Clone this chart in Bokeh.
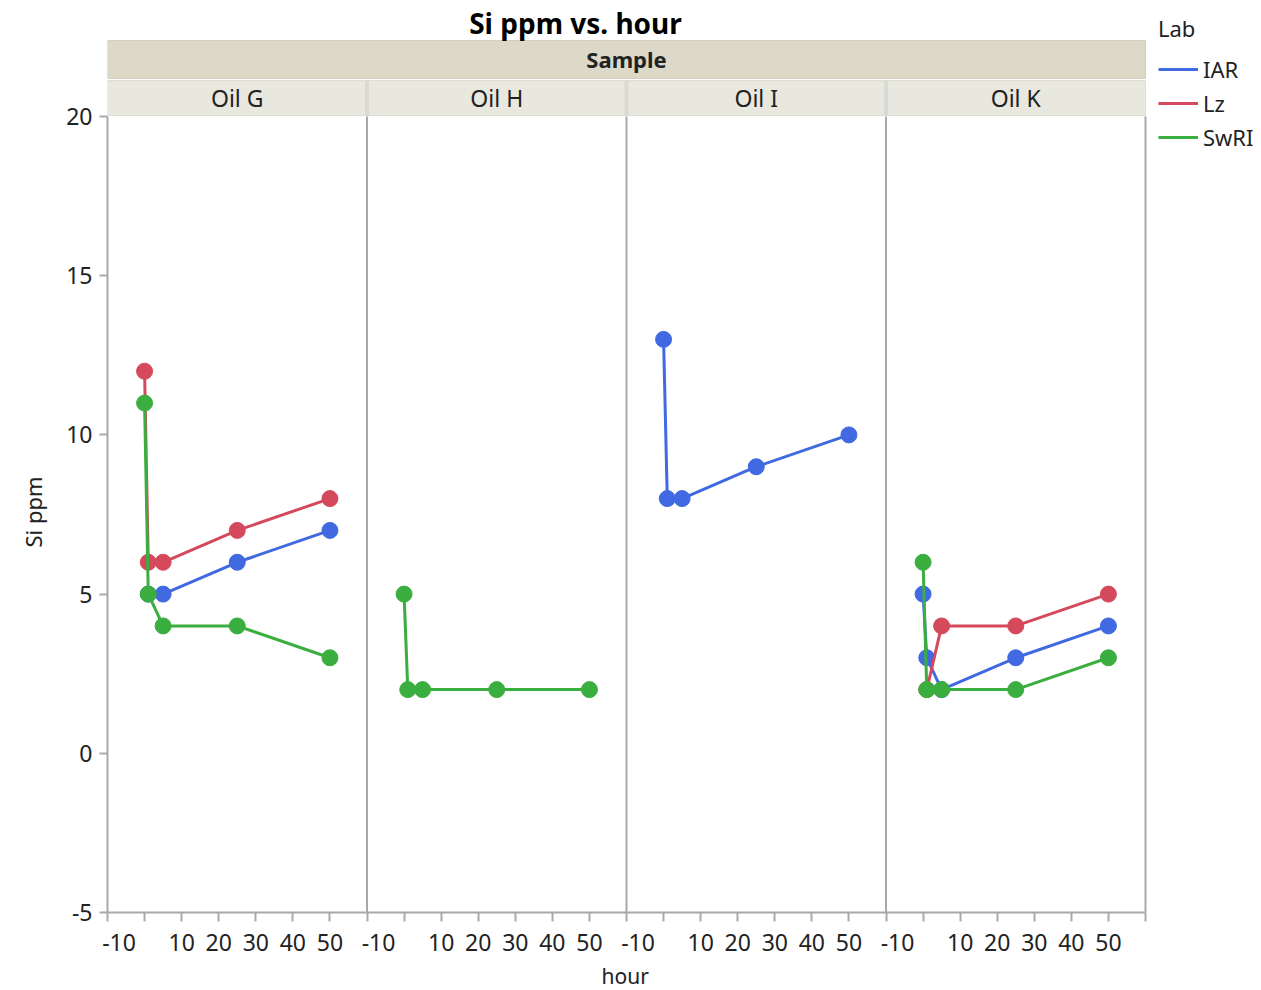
from bokeh.plotting import figure
from bokeh.models import Range1d, FixedTicker, LinearAxis, Legend, LegendItem, Title
from bokeh.core.properties import value
from bokeh.embed import file_html
from bokeh.resources import INLINE

# ---------------- data ----------------
samples = ["Oil G", "Oil H", "Oil I", "Oil K"]
labs = ["IAR", "Lz", "SwRI"]
lab_colors = ["#4169E1", "#D44A5C", "#3AAE3E"]

oil_g_iar_hour = [1, 5, 25, 50]
oil_g_iar_si = [5, 5, 6, 7]
oil_g_lz_hour = [0, 1, 5, 25, 50]
oil_g_lz_si = [12, 6, 6, 7, 8]
oil_g_swri_hour = [0, 1, 5, 25, 50]
oil_g_swri_si = [11, 5, 4, 4, 3]

oil_h_swri_hour = [0, 1, 5, 25, 50]
oil_h_swri_si = [5, 2, 2, 2, 2]

oil_i_iar_hour = [0, 1, 5, 25, 50]
oil_i_iar_si = [13, 8, 8, 9, 10]

oil_k_iar_hour = [0, 1, 5, 25, 50]
oil_k_iar_si = [5, 3, 2, 3, 4]
oil_k_lz_hour = [1, 5, 25, 50]
oil_k_lz_si = [2, 4, 4, 5]
oil_k_swri_hour = [0, 1, 5, 25, 50]
oil_k_swri_si = [6, 2, 2, 2, 3]

x_ticks_local = [-10, 0, 10, 20, 30, 40, 50, 60]
x_labels_local = {10: "10", 20: "20", 30: "30", 40: "40", 50: "50"}
y_ticks = [-5, 0, 5, 10, 15, 20]

series = [
    # (panel index, lab index, hours, values)
    (0, 0, oil_g_iar_hour, oil_g_iar_si),
    (0, 1, oil_g_lz_hour, oil_g_lz_si),
    (0, 2, oil_g_swri_hour, oil_g_swri_si),
    (1, 2, oil_h_swri_hour, oil_h_swri_si),
    (2, 0, oil_i_iar_hour, oil_i_iar_si),
    (3, 0, oil_k_iar_hour, oil_k_iar_si),
    (3, 1, oil_k_lz_hour, oil_k_lz_si),
    (3, 2, oil_k_swri_hour, oil_k_swri_si),
]

# ---------------- layout constants ----------------
XMIN, XMAX = -10, 60
SPAN = XMAX - XMIN          # width of one panel in hour units
NP = len(samples)
XEND = XMIN + SPAN * NP
FONT = "Noto Sans"
GREY = "#A9A9A9"
TXT = "#222222"

W, H = 1260, 990
ML, MR, MT, MB = 107, 0, 4, 78
frame_w = W - ML - MR
frame_h = H - MT - MB
px_per_y = 796 / 25.0
px_per_x = 1038 / float(SPAN * NP)
y_top = -5 + frame_h / px_per_y
x_right = XMIN + frame_w / px_per_x

def to_y(px_above_top):
    return 20 + px_above_top / px_per_y

def to_x(page_px):
    return XMIN + (page_px - ML) / px_per_x

p = figure(width=W, height=H, x_range=Range1d(XMIN, x_right),
           y_range=Range1d(-5, y_top), output_backend="svg",
           toolbar_location=None, min_border_left=ML, min_border_right=MR,
           min_border_top=MT, min_border_bottom=MB, x_axis_type=None,
           y_axis_type=None)
p.outline_line_color = None
p.grid.visible = False
p.background_fill_color = "white"

# ---------------- axes ----------------
gx = []
overrides = {}
for k in range(NP):
    for t in x_ticks_local:
        g = t + SPAN * k
        if g not in gx:
            gx.append(g)
        if t in x_labels_local:
            overrides[g] = x_labels_local[t]
        elif t == -10:
            overrides[g] = "\u2003-10"
        elif g not in overrides:
            overrides[g] = ""
xaxis = LinearAxis(ticker=FixedTicker(ticks=gx), major_label_overrides=overrides,
                   bounds=(XMIN, XEND),
                   axis_line_color=GREY, axis_line_width=2,
                   major_tick_line_color=GREY, major_tick_line_width=2,
                   major_tick_out=9, major_tick_in=0, minor_tick_out=0, minor_tick_in=0,
                   major_label_text_font=FONT, major_label_text_font_size="23px",
                   major_label_text_color=TXT, major_label_standoff=4)
p.add_layout(xaxis, "below")

yaxis = LinearAxis(ticker=FixedTicker(ticks=y_ticks), bounds=(-5, 20),
                   major_label_overrides={v: str(v) for v in y_ticks},
                   axis_line_color=GREY, axis_line_width=2,
                   major_tick_line_color=GREY, major_tick_line_width=2,
                   major_tick_out=8, major_tick_in=0, minor_tick_out=0, minor_tick_in=0,
                   major_label_text_font=FONT, major_label_text_font_size="23px",
                   major_label_text_color=TXT, major_label_standoff=7)
p.add_layout(yaxis, "left")

# axis titles (placed as side titles so they centre on the data area)
xt = Title(text="hour", align="left", offset=624 - ML - 23, standoff=0,
           text_font=FONT, text_font_size="21px", text_font_style="normal",
           text_color=TXT, vertical_align="middle")
p.add_layout(xt, "below")
yt = Title(text="Si ppm", align="left", offset=365, standoff=30,
           text_font=FONT, text_font_size="22px", text_font_style="normal",
           text_color=TXT, vertical_align="middle")
p.add_layout(yt, "left")

# panel separators and right edge inside the plot
seps = [XMIN + SPAN * k for k in range(1, NP + 1)]
p.segment(x0=seps, y0=[-5] * len(seps), x1=seps, y1=[20] * len(seps),
          line_color=GREY, line_width=2)

# ---------------- headers ----------------
p.quad(left=[XMIN], right=[XEND], bottom=[to_y(38)], top=[to_y(76)],
       fill_color="#DCD9C9", line_color="#D3D0BF", line_width=1)
lefts = [XMIN + SPAN * k for k in range(NP)]
rights = [XMIN + SPAN * (k + 1) for k in range(NP)]
p.quad(left=lefts, right=rights, bottom=[to_y(1)] * NP, top=[to_y(36)] * NP,
       fill_color="#E8E8DF", line_color="#DDDDD2", line_width=1)
inner = seps[:-1]
p.segment(x0=inner, y0=[to_y(1)] * len(inner), x1=inner, y1=[to_y(36)] * len(inner),
          line_color="#D9D9D6", line_width=4)
p.text(x=[XMIN + SPAN * NP / 2], y=[to_y(58)], text=["Sample"],
       text_font=value(FONT), text_font_style="bold", text_font_size="22px",
       text_color=TXT, text_align="center", text_baseline="middle")
p.text(x=[XMIN + SPAN * k + SPAN / 2 for k in range(NP)], y=[to_y(19)] * NP,
       text=samples, text_font=value(FONT), text_font_size="23px",
       text_color=TXT, text_align="center", text_baseline="middle")

# chart title
p.text(x=[to_x(575)], y=[to_y(94)], text=["Si ppm vs. hour"],
       text_font=value(FONT), text_font_style="bold", text_font_size="28px",
       text_color="#000000", text_align="center", text_baseline="middle")

# ---------------- data series ----------------
first_line = {}
for k, li, hrs, vals in series:
    gxs = [h + SPAN * k for h in hrs]
    col = lab_colors[li]
    r = p.line(gxs, vals, line_color=col, line_width=3)
    p.scatter(gxs, vals, size=16, fill_color=col, line_color=col)
    if li not in first_line:
        first_line[li] = r

legend = Legend(items=[LegendItem(label=labs[i], renderers=[first_line[i]]) for i in range(3)],
                title="Lab", location=(1051, frame_h - 152 + 4))
legend.title_text_font = FONT
legend.title_text_font_size = "22px"
legend.title_text_font_style = "normal"
legend.title_text_color = TXT
legend.title_standoff = 11
legend.label_text_font = FONT
legend.label_text_font_size = "22px"
legend.label_text_color = TXT
legend.glyph_width = 40
legend.glyph_height = 30
legend.label_standoff = 5
legend.spacing = 4
legend.padding = 0
legend.margin = 0
legend.border_line_color = None
legend.background_fill_alpha = 0
p.add_layout(legend, "center")

open("out.html", "w").write(file_html(p, INLINE))
